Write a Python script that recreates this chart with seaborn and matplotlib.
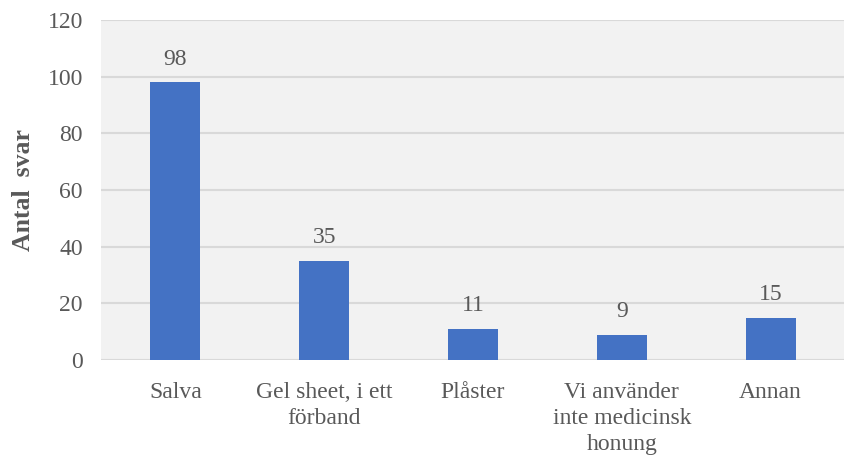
import matplotlib
matplotlib.use("Agg")
import matplotlib.pyplot as plt
import seaborn as sns
import pandas as pd

categories = ["Salva", "Gel sheet, i ett\nförband", "Plåster", "Vi använder\ninte medicinsk\nhonung", "Annan"]
values = [98, 35, 11, 9, 15]
yticks = [0, 20, 40, 60, 80, 100, 120]

sns.set_theme(style="white")
plt.rcParams['font.family'] = ['Liberation Serif', 'DejaVu Serif']

df = pd.DataFrame({"cat": categories, "val": values})
fig = plt.figure(figsize=(8.45, 4.57), dpi=100)
ax = fig.add_axes([101/845, 1-360/457, 1-101/845, 340/457])
ax.set_facecolor("#F2F2F2")
sns.barplot(data=df, x="cat", y="val", color="#4472C4", width=0.336, saturation=1, ax=ax,
            zorder=3, linewidth=0)
ax.set_ylim(0, 120)
ax.set_yticks(yticks)
ax.yaxis.grid(True, color="#D9D9D9", linewidth=1.5, zorder=0)
ax.set_axisbelow(True)
for s in ax.spines.values():
    s.set_visible(False)
ax.tick_params(axis='both', length=0, labelsize=17, colors="#595959")
ax.tick_params(axis='y', pad=13)
ax.tick_params(axis='x', pad=15.5)
ax.set_xlabel("")
ax.set_ylabel("Antal  svar", fontsize=18.5, fontweight="bold", color="#595959", labelpad=9)
for lbl in ax.get_xticklabels():
    lbl.set_linespacing(1.32)
for i, v in enumerate(values):
    ax.annotate(str(v), (i, v), xytext=(0, 9), textcoords="offset points", ha="center", va="bottom",
                fontsize=17, color="#595959")
fig.savefig("out.png", dpi=100)
